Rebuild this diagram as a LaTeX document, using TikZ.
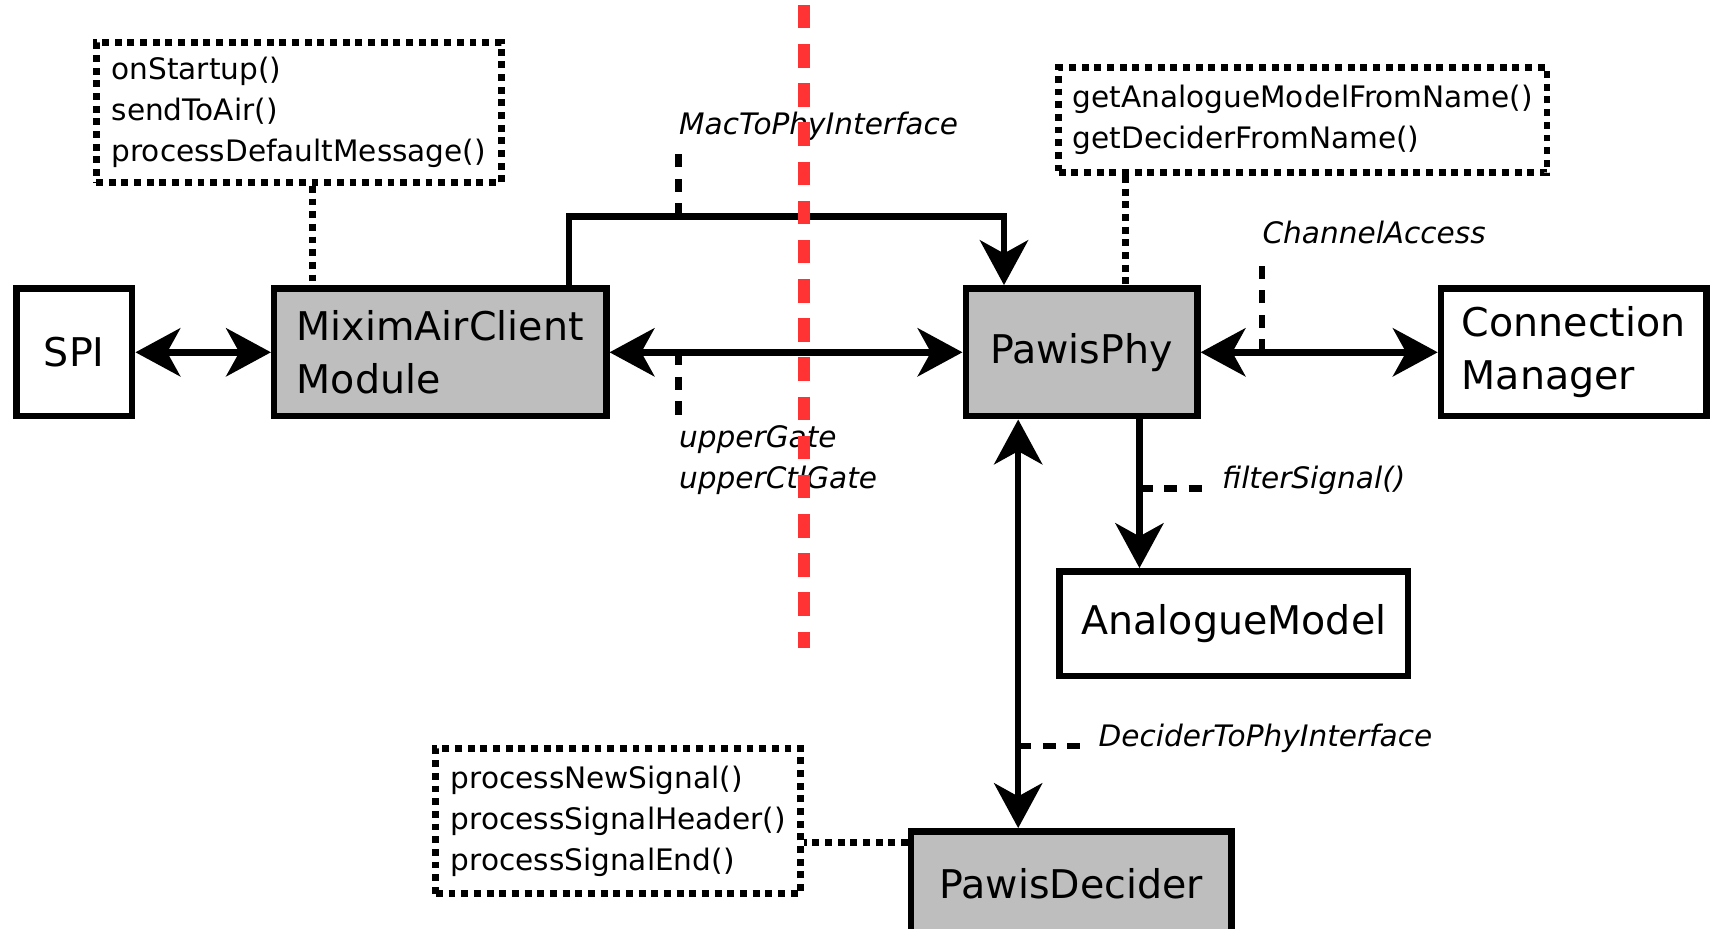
\documentclass[tikz,border=0pt]{standalone}
\usepackage{fontspec}
\setmainfont{DejaVu Sans}
\usetikzlibrary{arrows.meta}
\definecolor{boxgray}{RGB}{190,190,190}
\definecolor{cutred}{RGB}{255,51,51}
\newcommand{\blockfont}{\fontsize{10.3}{13.9}\selectfont}
\newcommand{\methfont}{\fontsize{7.7}{10.7}\selectfont}
\tikzset{
    >={Stealth[length=4.1mm, width=4.4mm, inset=1.2mm]},
    block/.style={draw, line width=1.7pt, minimum height=1.17cm, align=left, font=\blockfont},
    gblock/.style={block, fill=boxgray},
    methods/.style={draw, line width=1.8pt, dash pattern=on 1.8pt off 1.5pt, align=left, font=\methfont},
    iface/.style={anchor=west, inner sep=0pt, align=left, font=\methfont\itshape},
    conn/.style={line width=1.7pt},
    dotline/.style={line width=1.8pt, dash pattern=on 1.8pt off 1.5pt},
    tick/.style={line width=1.7pt, dash pattern=on 3.4pt off 3pt},
    cutline/.style={cutred, line width=3.1pt, dash pattern=on 6.1pt off 4.1pt}
}
\begin{document}
\begin{tikzpicture}
    \useasboundingbox (0,0) rectangle (15.68,8.50);

    \node[
        block,
        minimum width=1.06cm]
        (spi) at (0.68,5.275) {SPI};
    \node[
        gblock,
        minimum width=3.04cm]
        (mixim) at (4.03,5.275) {MiximAirClient\\Module};
    \node[
        gblock,
        minimum width=2.12cm]
        (phy) at (9.90,5.275) {PawisPhy};
    \node[
        block,
        minimum width=2.43cm]
        (cm) at (14.405,5.275) {Connection\\Manager};
    \node[
        block,
        minimum width=3.19cm,
        minimum height=0.96cm]
        (am) at (11.295,2.79) {AnalogueModel};
    \node[
        gblock,
        minimum width=2.93cm,
        minimum height=0.96cm]
        (dec) at (9.805,0.41) {PawisDecider};

    \node[
        methods,
        minimum width=3.71cm,
        minimum height=1.28cm]
        (mixmeth) at (2.735,7.47) {onStartup()\\sendToAir()\\processDefaultMessage()};
    \node[
        methods,
        minimum width=4.47cm,
        minimum height=0.96cm]
        (phymeth) at (11.925,7.40) {getAnalogueModelFromName()\\getDeciderFromName()};
    \node[
        methods,
        minimum width=3.34cm,
        minimum height=1.33cm]
        (decmeth) at (5.66,0.985) {processNewSignal()\\processSignalHeader()\\processSignalEnd()};

    \draw[dotline] ([xshift=1.25mm]mixmeth.south) -- ([xshift=1.25mm]mixmeth.south |- mixim.north);
    \draw[dotline] ([xshift=-16.25mm]phymeth.south) -- ([xshift=-16.25mm]phymeth.south |- phy.north);
    \draw[dotline] ([yshift=3.8mm]dec.west) -- ([yshift=3.8mm]dec.west -| decmeth.east);

    \draw[conn, <->] (spi) -- (mixim);
    \draw[conn, <->] (mixim) -- (phy);
    \draw[conn, <->] (phy) -- (cm);
    \draw[conn, ->] ([xshift=1.18cm]mixim.north) -- ++(0,0.63) -| ([xshift=-0.71cm]phy.north);
    \draw[conn, <->] ([xshift=-0.58cm]phy.south) -- ([xshift=-0.58cm]phy.south |- dec.north);
    \draw[conn, ->] ([xshift=0.53cm]phy.south) -- ([xshift=0.53cm]phy.south |- am.north);

    \node[iface] (macif) at (6.21,7.34) {MacToPhyInterface};
    \node[iface] (gates) at (6.21,4.29) {upperGate\\upperCtlGate};
    \node[iface] (chanif) at (11.55,6.37) {ChannelAccess};
    \node[iface] (filtif) at (11.18,4.10) {filterSignal()};
    \node[iface] (decif) at (10.05,1.74) {DeciderToPhyInterface};

    \coordinate (macbus) at (6.21,6.52);
    \coordinate (macend) at (6.21,7.13);
    \coordinate (gatebus) at (6.21,5.275);
    \coordinate (gateend) at (6.21,4.65);
    \coordinate (chanbus) at (11.55,5.275);
    \coordinate (chanend) at (11.55,6.14);
    \coordinate (filtbus) at (10.43,4.03);
    \coordinate (filtend) at (11.05,4.03);
    \coordinate (decbus) at (9.32,1.67);
    \coordinate (decend) at (9.93,1.67);

    \draw[tick] (macbus) -- (macend);
    \draw[tick] (gatebus) -- (gateend);
    \draw[tick] (chanbus) -- (chanend);
    \draw[tick] (filtbus) -- (filtend);
    \draw[tick] (decbus) -- (decend);

    \draw[cutline] (7.36,8.454) -- (7.36,2.57);
\end{tikzpicture}
\end{document}
